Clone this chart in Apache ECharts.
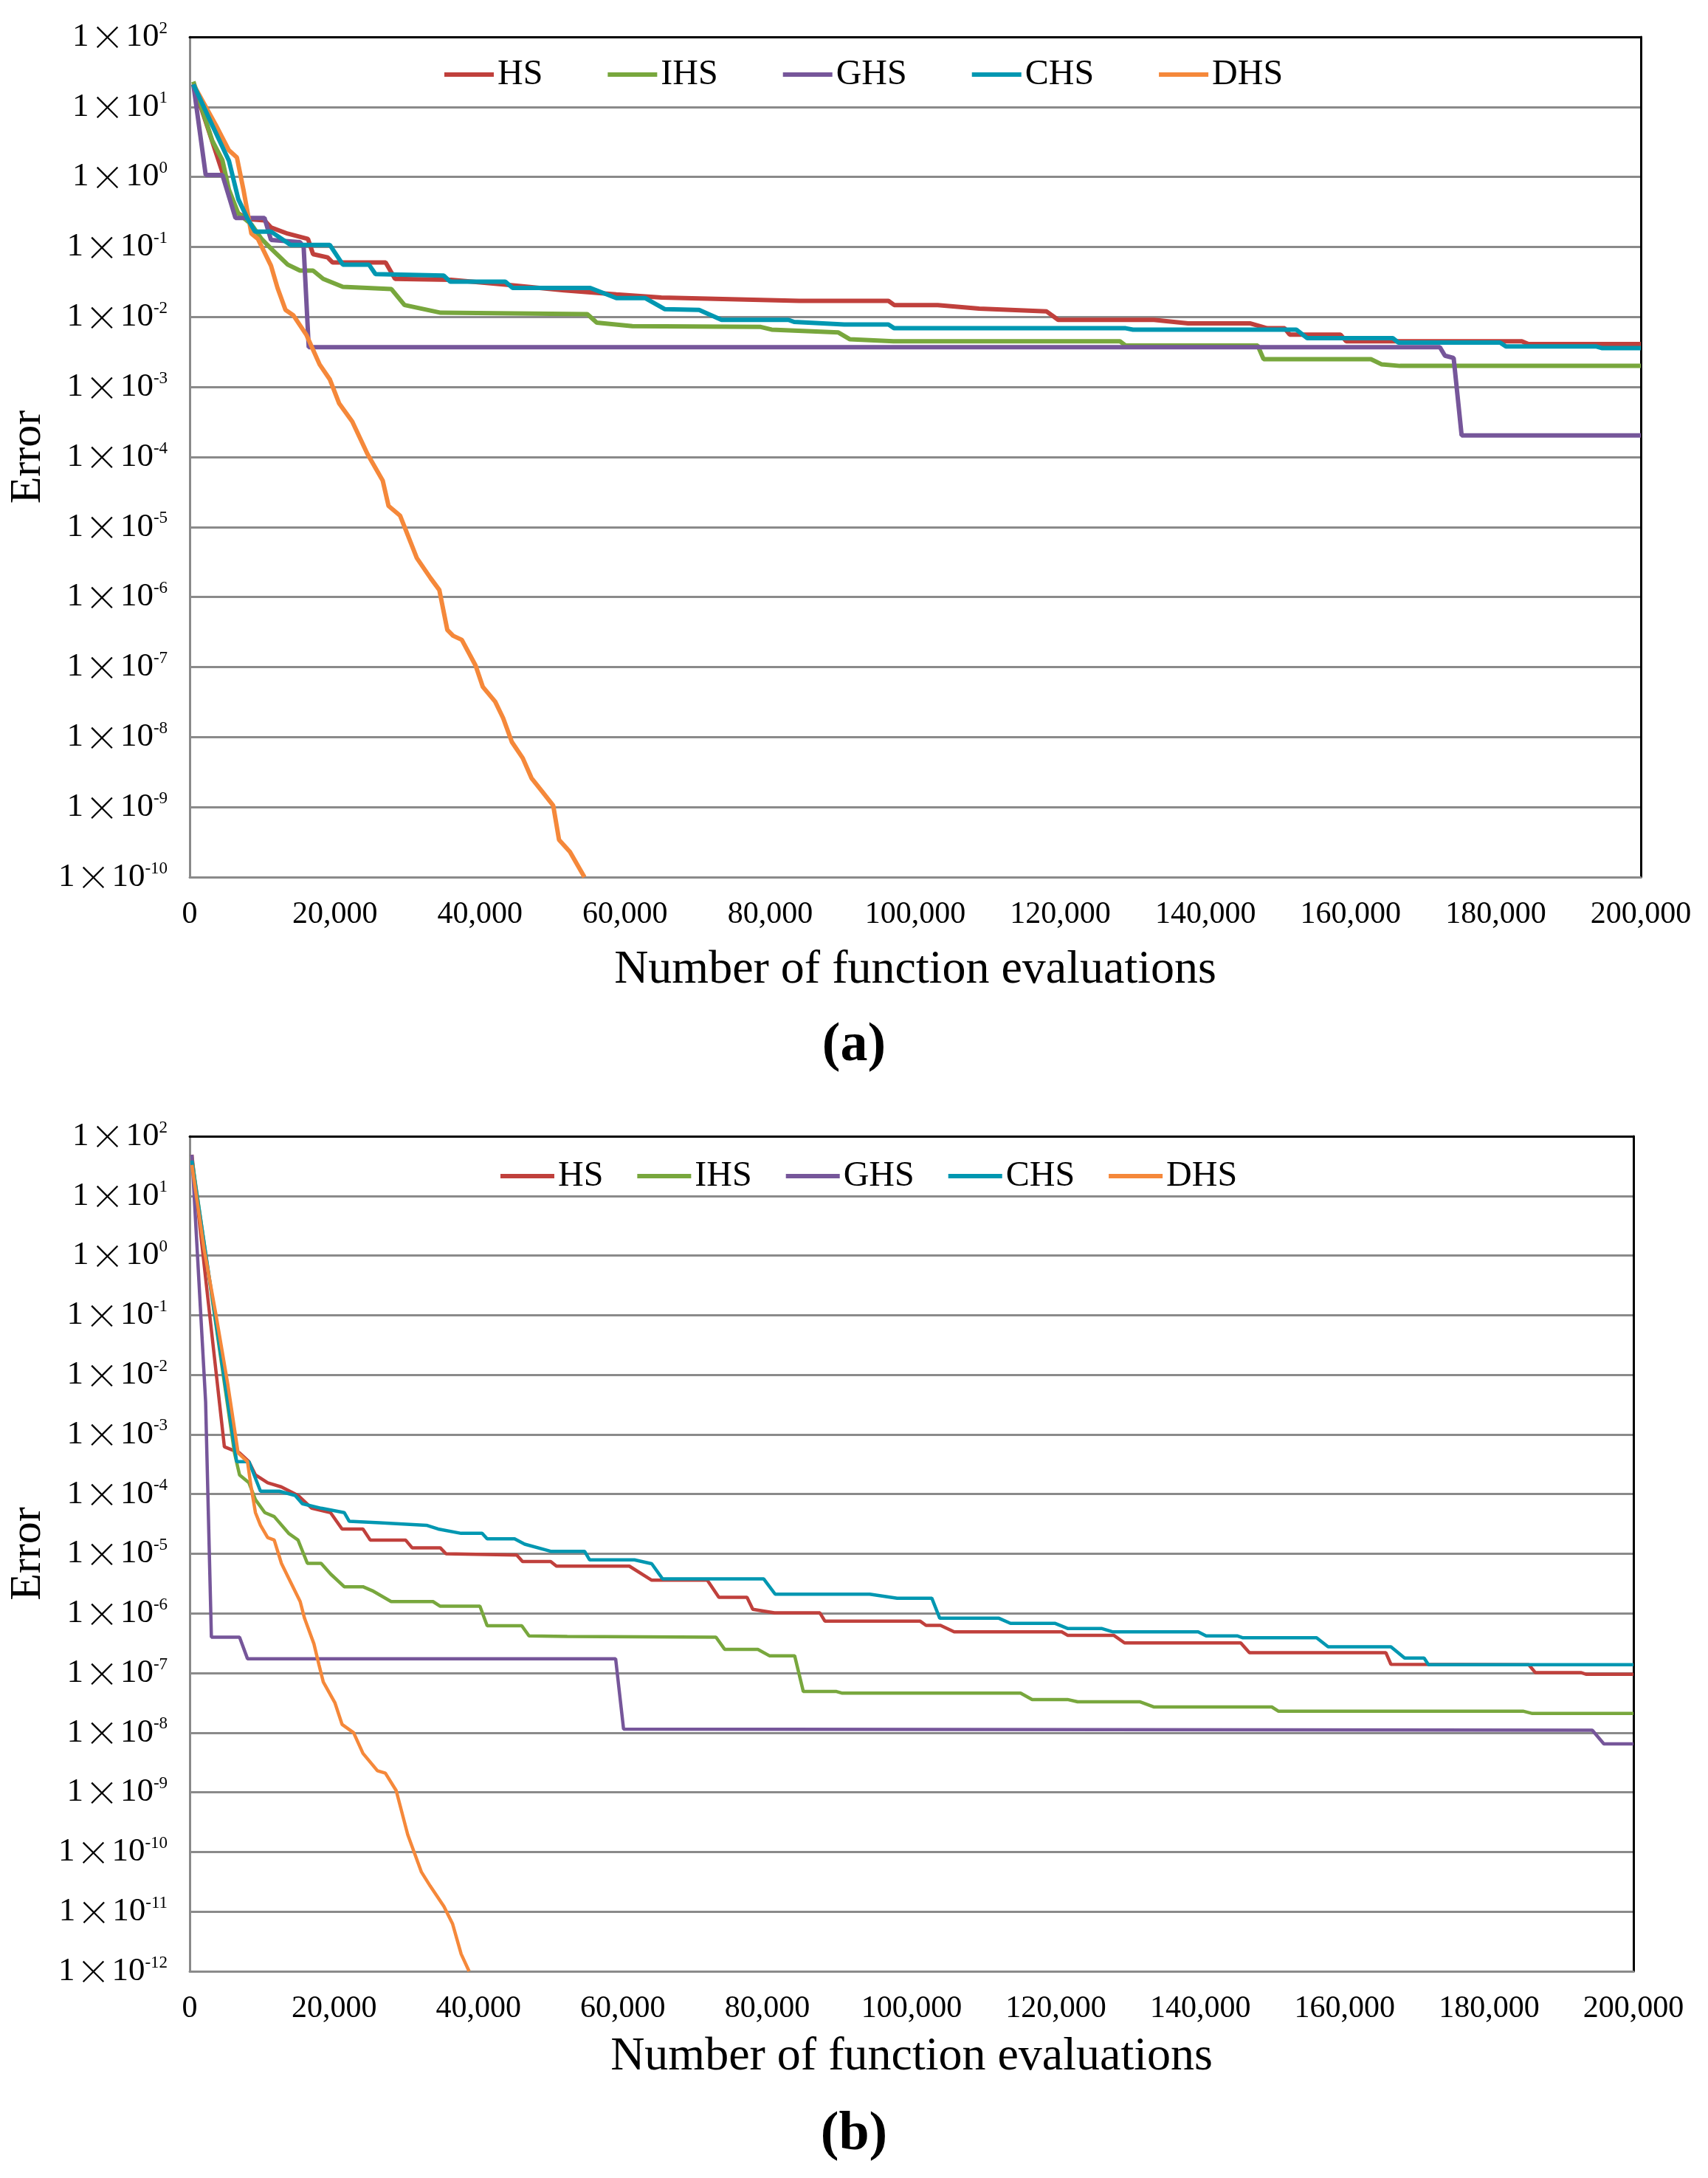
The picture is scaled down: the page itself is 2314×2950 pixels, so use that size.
<!DOCTYPE html>
<html>
<head>
<meta charset="utf-8">
<title>Error vs evaluations</title>
<script src="https://cdn.jsdelivr.net/npm/echarts@6/dist/echarts.min.js"></script>
<style>
  html, body { margin: 0; padding: 0; background: #fff; }
  #chart { width: 2314px; height: 2950px; }
</style>
</head>
<body>
<div id="chart"></div>
<script>
// series names, in legend order
const names = ['HS', 'IHS', 'GHS', 'CHS', 'DHS'];
const colors = ['#C0403C', '#78A73D', '#76569A', '#0097B1', '#F5883A'];

// panel (a): [evaluations, error]
const hsA = [[500, 21], [6300, 0.32], [8000, 0.25], [10300, 0.24], [11200, 0.19], [13500, 0.155], [16300, 0.13], [17000, 0.079], [19000, 0.071], [19700, 0.060], [27000, 0.060], [28300, 0.035], [36000, 0.034], [43500, 0.029], [51600, 0.024], [58800, 0.021], [65000, 0.019], [84000, 0.017], [96300, 0.017], [97100, 0.0148], [103100, 0.0148], [108800, 0.0132], [118100, 0.012], [119700, 0.0091], [132900, 0.0091], [137600, 0.0081], [146200, 0.0081], [148500, 0.0069], [150900, 0.0069], [151600, 0.0056], [158600, 0.0056], [159400, 0.0045], [183600, 0.0045], [184500, 0.0041], [200000, 0.0041]];
const ihsA = [[500, 23], [3100, 3.3], [4500, 1.74], [5400, 0.66], [6700, 0.30], [8500, 0.21], [9900, 0.13], [11200, 0.095], [13500, 0.056], [15200, 0.046], [17000, 0.046], [18400, 0.035], [21100, 0.027], [27800, 0.025], [29600, 0.0148], [34600, 0.0115], [54800, 0.011], [56100, 0.0083], [61000, 0.0074], [78700, 0.0072], [80200, 0.0066], [89400, 0.0060], [91000, 0.0048], [97000, 0.0045], [128200, 0.0045], [129000, 0.0039], [147200, 0.0039], [148000, 0.0025], [162800, 0.0025], [164300, 0.0021], [166800, 0.0020], [200000, 0.0020]];
const ghsA = [[500, 21], [2200, 1.07], [4500, 1.07], [6300, 0.26], [10300, 0.26], [11200, 0.126], [15200, 0.117], [15700, 0.10], [16400, 0.0037], [172300, 0.0037], [173000, 0.0028], [174200, 0.0026], [175300, 0.000204], [200000, 0.000204]];
const chsA = [[500, 21], [3100, 5.5], [5400, 1.7], [6700, 0.48], [8000, 0.25], [9000, 0.166], [11200, 0.166], [13900, 0.107], [19300, 0.107], [21100, 0.056], [24700, 0.056], [25600, 0.041], [35000, 0.039], [35900, 0.032], [43500, 0.032], [44500, 0.026], [55200, 0.026], [58800, 0.0186], [62800, 0.0186], [65500, 0.0129], [70200, 0.0126], [73300, 0.0091], [82500, 0.0091], [83300, 0.0085], [90200, 0.0078], [96300, 0.0078], [97100, 0.0069], [129000, 0.0069], [130000, 0.0066], [152500, 0.0066], [154000, 0.0050], [165800, 0.0050], [166600, 0.0043], [180600, 0.0043], [181400, 0.0038], [193800, 0.0038], [194600, 0.0036], [200000, 0.0036]];
const dhsA = [[500, 21], [3600, 5.5], [5400, 2.4], [6500, 1.9], [7400, 0.66], [8500, 0.155], [9400, 0.13], [11200, 0.054], [12100, 0.026], [13200, 0.0126], [14300, 0.0105], [16100, 0.0055], [17900, 0.0021], [19300, 0.00129], [20600, 5.8e-4], [22400, 3.2e-4], [24500, 1.1e-4], [26600, 4.6e-5], [27400, 2.0e-5], [29000, 1.45e-5], [31300, 3.6e-6], [33200, 1.86e-6], [34400, 1.26e-6], [35500, 3.4e-7], [36300, 2.8e-7], [37500, 2.45e-7], [39400, 1.05e-7], [40400, 5.2e-8], [42100, 3.2e-8], [43200, 1.86e-8], [44400, 8.5e-9], [45900, 5.0e-9], [47100, 2.6e-9], [48600, 1.66e-9], [50100, 1.05e-9], [50900, 3.4e-10], [52400, 2.3e-10], [54400, 1.0e-10]];

// panel (b)
const hsB = [[300, 49], [4800, 6.2e-4], [6900, 4.9e-4], [8200, 3.5e-4], [9100, 2.1e-4], [10800, 1.55e-4], [12700, 1.32e-4], [15000, 9.5e-5], [16900, 5.8e-5], [19500, 4.9e-5], [21100, 2.6e-5], [24000, 2.6e-5], [25000, 1.7e-5], [29900, 1.7e-5], [30800, 1.26e-5], [34700, 1.26e-5], [35500, 1.0e-5], [45300, 9.5e-6], [46100, 7.4e-6], [50000, 7.4e-6], [50800, 6.2e-6], [60900, 6.2e-6], [64000, 3.6e-6], [71700, 3.6e-6], [73300, 1.86e-6], [77200, 1.86e-6], [78000, 1.17e-6], [81000, 1.02e-6], [87300, 1.02e-6], [88000, 7.4e-7], [101200, 7.4e-7], [102000, 6.3e-7], [104000, 6.3e-7], [105900, 4.9e-7], [120800, 4.9e-7], [121600, 4.3e-7], [128000, 4.3e-7], [129500, 3.2e-7], [145600, 3.2e-7], [146800, 2.2e-7], [165700, 2.2e-7], [166400, 1.4e-7], [185500, 1.38e-7], [186400, 1.02e-7], [192700, 1.02e-7], [193500, 9.5e-8], [200000, 9.5e-8]];
const ihsB = [[300, 42], [6200, 4.9e-4], [6900, 2.1e-4], [8200, 1.55e-4], [9100, 8.1e-5], [10400, 4.9e-5], [11700, 4.2e-5], [13700, 2.2e-5], [15000, 1.7e-5], [16300, 6.9e-6], [18200, 6.9e-6], [19500, 4.6e-6], [21400, 2.8e-6], [24000, 2.8e-6], [25300, 2.4e-6], [27900, 1.58e-6], [33700, 1.58e-6], [34700, 1.32e-6], [40200, 1.32e-6], [41200, 6.2e-7], [46000, 6.2e-7], [47000, 4.2e-7], [52300, 4.1e-7], [72900, 4.0e-7], [74100, 2.5e-7], [78700, 2.5e-7], [80300, 1.95e-7], [83800, 1.95e-7], [85000, 4.9e-8], [89600, 4.9e-8], [90400, 4.6e-8], [115100, 4.6e-8], [116700, 3.6e-8], [121600, 3.6e-8], [123000, 3.3e-8], [131600, 3.3e-8], [133600, 2.7e-8], [149900, 2.7e-8], [150800, 2.3e-8], [184700, 2.3e-8], [186000, 2.1e-8], [200000, 2.1e-8]];
const ghsB = [[300, 49], [2200, 3.5e-3], [3000, 4.0e-7], [6900, 4.0e-7], [8000, 1.74e-7], [59000, 1.74e-7], [60100, 1.15e-8], [194300, 1.1e-8], [195900, 6.5e-9], [200000, 6.5e-9]];
const chsB = [[300, 39], [6500, 3.5e-4], [8200, 3.5e-4], [9800, 1.12e-4], [12400, 1.12e-4], [14600, 9.5e-5], [15600, 6.9e-5], [18200, 5.8e-5], [21400, 4.9e-5], [22100, 3.5e-5], [26300, 3.3e-5], [32800, 3.0e-5], [34400, 2.6e-5], [37600, 2.2e-5], [40500, 2.2e-5], [41200, 1.78e-5], [45000, 1.78e-5], [46400, 1.45e-5], [50000, 1.1e-5], [54700, 1.1e-5], [55400, 7.9e-6], [61600, 7.9e-6], [64000, 6.8e-6], [65500, 3.8e-6], [79500, 3.8e-6], [81100, 2.1e-6], [94200, 2.1e-6], [98000, 1.8e-6], [102800, 1.8e-6], [103900, 8.3e-7], [112100, 8.3e-7], [113700, 6.8e-7], [119900, 6.8e-7], [121600, 5.6e-7], [126300, 5.6e-7], [127900, 4.9e-7], [139700, 4.9e-7], [140800, 4.2e-7], [145100, 4.2e-7], [145900, 3.9e-7], [156100, 3.9e-7], [157700, 2.75e-7], [166400, 2.75e-7], [168300, 1.78e-7], [171000, 1.78e-7], [171600, 1.38e-7], [200000, 1.38e-7]];
const dhsB = [[300, 33], [2000, 1.26], [3600, 0.107], [5300, 6.6e-3], [6700, 4.9e-4], [8000, 3.5e-4], [8500, 1.32e-4], [9100, 4.9e-5], [9800, 3.0e-5], [10800, 1.86e-5], [11700, 1.7e-5], [12700, 6.9e-6], [13700, 3.9e-6], [15300, 1.58e-6], [15900, 8.3e-7], [17200, 3.1e-7], [17900, 1.38e-7], [18500, 7.1e-8], [20100, 3.2e-8], [21100, 1.38e-8], [22700, 1.0e-8], [24000, 4.5e-9], [26000, 2.3e-9], [27100, 2.1e-9], [28600, 1.07e-9], [30200, 1.95e-10], [32100, 4.6e-11], [33300, 2.7e-11], [35200, 1.23e-11], [36400, 6.3e-12], [37600, 1.95e-12], [38700, 1.0e-12]];

const panelA = [hsA, ihsA, ghsA, chsA, dhsA];
const panelB = [hsB, ihsB, ghsB, chsB, dhsB];

// decade range of each y axis (exponents of ten)
const decadesA = [-10, 2];
const decadesB = [-12, 2];

const serif = 'Liberation Serif';
const gridGrey = '#8a8a8a';

const chart = echarts.init(document.getElementById('chart'));

// the y axes run in powers of ten: plot log10(error)
function toLog(d) {
  return d.map(p => [p[0], Math.log10(p[1])]);
}

// "1×10^n" tick labels
function expLabel(v) {
  return '1{x|×}10{s|' + Math.round(v) + '}';
}

function yAxisFor(gridIndex, range) {
  return {
    type: 'value', gridIndex: gridIndex,
    min: range[0], max: range[1], interval: 1,
    name: 'Error', nameLocation: 'middle', nameRotate: 90, nameGap: 182,
    nameTextStyle: { fontFamily: serif, fontSize: 60, color: '#000' },
    axisLine: { show: true, onZero: false, lineStyle: { color: gridGrey, width: 3 } },
    axisTick: { show: false },
    splitLine: { show: true, lineStyle: { color: gridGrey, width: 3 } },
    axisLabel: {
      formatter: expLabel, margin: 30, color: '#000',
      fontFamily: serif, fontSize: 45,
      rich: {
        x: { fontFamily: 'Noto Sans CJK SC', fontWeight: 300, fontSize: 46, color: '#000', padding: [0, 2, 0, 2] },
        s: { fontFamily: serif, fontSize: 23, color: '#000', verticalAlign: 'top', lineHeight: 23 }
      }
    }
  };
}

function xAxisFor(gridIndex, gap) {
  return {
    type: 'value', gridIndex: gridIndex, min: 0, max: 200000, interval: 20000,
    name: 'Number of function evaluations', nameLocation: 'middle', nameGap: gap,
    nameTextStyle: { fontFamily: serif, fontSize: 64, color: '#000' },
    axisLine: { show: true, onZero: false, lineStyle: { color: gridGrey, width: 3 } },
    axisTick: { show: false },
    splitLine: { show: false },
    axisLabel: {
      margin: 30, color: '#000', fontFamily: serif, fontSize: 42,
      formatter: v => v.toLocaleString('en-US')
    }
  };
}

// black top / right frame lines
function frameX(gridIndex) {
  return {
    type: 'value', gridIndex: gridIndex, position: 'top', min: 0, max: 1,
    axisLine: { show: true, onZero: false, lineStyle: { color: '#000', width: 3 } },
    axisTick: { show: false }, axisLabel: { show: false }, splitLine: { show: false }
  };
}
function frameY(gridIndex) {
  return {
    type: 'value', gridIndex: gridIndex, position: 'right', min: 0, max: 1,
    axisLine: { show: true, onZero: false, lineStyle: { color: '#000', width: 3 } },
    axisTick: { show: false }, axisLabel: { show: false }, splitLine: { show: false }
  };
}

function legendFor(left, top, gap, w) {
  return {
    data: names, left: left, top: top, orient: 'horizontal',
    icon: 'rect', itemWidth: w, itemHeight: 6, itemGap: gap,
    textStyle: { fontFamily: serif, fontSize: 48, color: '#000' },
    selectedMode: false
  };
}

const series = [];
panelA.forEach((d, i) => {
  series.push({
    name: names[i], type: 'line', xAxisIndex: 0, yAxisIndex: 0,
    data: toLog(d), symbol: 'none', color: colors[i],
    lineStyle: { color: colors[i], width: 6 }, z: i === 3 ? 4 : 3
  });
});
panelB.forEach((d, i) => {
  series.push({
    name: names[i], type: 'line', xAxisIndex: 1, yAxisIndex: 1,
    data: toLog(d), symbol: 'none', color: colors[i],
    lineStyle: { color: colors[i], width: 4.5 }, z: 3
  });
});

chart.setOption({
  animation: false,
  backgroundColor: '#fff',
  title: [
    { text: '(a)', left: 'center', top: 1375, textStyle: { fontFamily: serif, fontWeight: 'bold', fontSize: 74, color: '#000' } },
    { text: '(b)', left: 'center', top: 2850, textStyle: { fontFamily: serif, fontWeight: 'bold', fontSize: 74, color: '#000' } }
  ],
  legend: [legendFor(597, 72, 88, 67), legendFor(673, 1564, 46, 73)],
  grid: [
    { left: 236, top: 50, width: 1987, height: 1138 },
    { left: 242, top: 1539, width: 1971, height: 1131 }
  ],
  xAxis: [xAxisFor(0, 94), xAxisFor(1, 84), frameX(0), frameX(1)],
  yAxis: [yAxisFor(0, decadesA), yAxisFor(1, decadesB), frameY(0), frameY(1)],
  series: series
});
</script>
</body>
</html>
